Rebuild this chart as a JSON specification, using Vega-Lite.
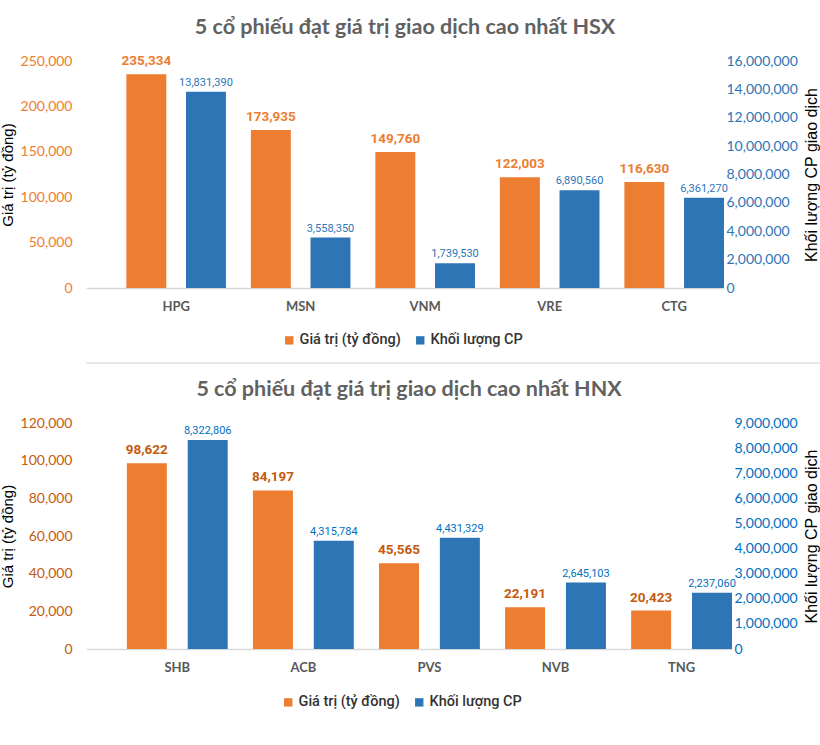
{
  "$schema": "https://vega.github.io/schema/vega-lite/v6.json",
  "padding": {"top": 16, "left": 0, "right": 0, "bottom": 0},
  "background": "white",
  "config": {"view": {"stroke": null}, "font": "Lato"},
  "spacing": 10,
  "resolve": {"scale": {"color": "independent", "x": "independent", "y": "independent", "xOffset": "independent"}, "legend": {"color": "independent"}},
  "vconcat": [
    {
      "width": 638,
      "height": 227,
      "title": {"text": "5 cổ phiếu đạt giá trị giao dịch cao nhất HSX", "font": "Lato", "fontSize": 21.5, "fontWeight": "bold", "color": "#616161", "anchor": "middle", "offset": 16},
      "data": {"values": [
        {"ma": "HPG", "gt": 235334, "kl": 13831390},
        {"ma": "MSN", "gt": 173935, "kl": 3558350},
        {"ma": "VNM", "gt": 149760, "kl": 1739530},
        {"ma": "VRE", "gt": 122003, "kl": 6890560},
        {"ma": "CTG", "gt": 116630, "kl": 6361270}
      ]},
      "encoding": {
        "x": {"field": "ma", "type": "nominal", "sort": null, "title": null,
          "scale": {"paddingInner": 0.2, "paddingOuter": 0.162, "align": 1},
          "axis": {"labelAngle": 0, "labelFont": "Lato", "labelFontWeight": "bold", "labelFontSize": 13, "labelColor": "#595959", "labelPadding": 12, "ticks": false, "domainColor": "#D9D9D9", "domainWidth": 1.5}}
      },
      "layer": [
        {
          "encoding": {
            "y": {"field": "gt", "type": "quantitative", "scale": {"domain": [0, 250000]},
              "axis": {"title": "Giá trị (tỷ đồng)", "values": [0, 50000, 100000, 150000, 200000, 250000], "format": ",.0f", "labelColor": "#ED7D31", "labelFont": "Lato", "labelFontSize": 14, "labelPadding": 14, "grid": false, "domain": false, "ticks": false, "titleColor": "#000000", "titleFont": "Liberation Sans", "titleFontWeight": "normal", "titleFontSize": 15, "titlePadding": 5}},
            "xOffset": {"datum": "Giá trị (tỷ đồng)", "scale": {"domain": ["Giá trị (tỷ đồng)", "Khối lượng CP"], "paddingInner": 0.33, "paddingOuter": 0}}
          },
          "layer": [
            {"mark": {"type": "bar"},
             "encoding": {"color": {"datum": "Giá trị (tỷ đồng)", "scale": {"domain": ["Giá trị (tỷ đồng)", "Khối lượng CP"], "range": ["#ED7D31", "#2E75B6"]},
               "legend": {"orient": "none", "legendX": 196, "legendY": 272, "direction": "horizontal", "title": null, "symbolType": "square", "symbolSize": 70, "labelFont": "Roboto", "labelFontSize": 14.5, "labelFontWeight": 500, "labelColor": "#333333", "labelOffset": 3, "columnPadding": 12}}}},
            {"mark": {"type": "text", "baseline": "alphabetic", "dy": -9, "font": "Roboto", "fontWeight": "bold", "fontSize": 13.5, "color": "#ED7D31"},
             "encoding": {"text": {"field": "gt", "type": "quantitative", "format": ",.0f"}}}
          ]
        },
        {
          "encoding": {
            "y": {"field": "kl", "type": "quantitative", "scale": {"domain": [0, 16000000]},
              "axis": {"orient": "right", "title": "Khối lượng CP giao dịch", "values": [0, 2000000, 4000000, 6000000, 8000000, 10000000, 12000000, 14000000, 16000000], "format": ",.0f", "labelColor": "#2E75B6", "labelFont": "Lato", "labelFontSize": 14, "labelPadding": 2, "grid": false, "domain": false, "ticks": false, "titleColor": "#000000", "titleFont": "Liberation Sans", "titleFontWeight": "normal", "titleFontSize": 16, "titlePadding": 6, "titleAngle": 270, "titleBaseline": "top"}},
            "xOffset": {"datum": "Khối lượng CP"}
          },
          "layer": [
            {"mark": {"type": "bar"},
             "encoding": {"color": {"datum": "Khối lượng CP"}}},
            {"mark": {"type": "text", "baseline": "alphabetic", "dy": -6, "font": "Roboto", "fontSize": 11, "color": "#2E75B6"},
             "encoding": {"text": {"field": "kl", "type": "quantitative", "format": ",.0f"}}}
          ]
        }
      ],
      "resolve": {"scale": {"y": "independent"}}
    },
    {
      "width": 820,
      "height": 2,
      "view": {"fill": "#E8E8E8", "stroke": null},
      "data": {"values": [{}]},
      "mark": {"type": "text", "text": ""},
      "encoding": {}
    },
    {
      "width": 646,
      "height": 226,
      "title": {"text": "5 cổ phiếu đạt giá trị giao dịch cao nhất HNX", "font": "Lato", "fontSize": 21.5, "fontWeight": "bold", "color": "#616161", "anchor": "middle", "offset": 16},
      "data": {"values": [
        {"ma": "SHB", "gt": 98622, "kl": 8322806},
        {"ma": "ACB", "gt": 84197, "kl": 4315784},
        {"ma": "PVS", "gt": 45565, "kl": 4431329},
        {"ma": "NVB", "gt": 22191, "kl": 2645103},
        {"ma": "TNG", "gt": 20423, "kl": 2237060}
      ]},
      "encoding": {
        "x": {"field": "ma", "type": "nominal", "sort": null, "title": null,
          "scale": {"paddingInner": 0.2, "paddingOuter": 0.162, "align": 1},
          "axis": {"labelAngle": 0, "labelFont": "Lato", "labelFontWeight": "bold", "labelFontSize": 13, "labelColor": "#595959", "labelPadding": 12, "ticks": false, "domainColor": "#D9D9D9", "domainWidth": 1.5}}
      },
      "layer": [
        {
          "encoding": {
            "y": {"field": "gt", "type": "quantitative", "scale": {"domain": [0, 120000]},
              "axis": {"title": "Giá trị (tỷ đồng)", "values": [0, 20000, 40000, 60000, 80000, 100000, 120000], "format": ",.0f", "labelColor": "#C55A11", "labelFont": "Lato", "labelFontSize": 14, "labelPadding": 14, "grid": false, "domain": false, "ticks": false, "titleColor": "#000000", "titleFont": "Liberation Sans", "titleFontWeight": "normal", "titleFontSize": 15, "titlePadding": 5}},
            "xOffset": {"datum": "Giá trị (tỷ đồng)", "scale": {"domain": ["Giá trị (tỷ đồng)", "Khối lượng CP"], "paddingInner": 0.343, "paddingOuter": 0}}
          },
          "layer": [
            {"mark": {"type": "bar"},
             "encoding": {"color": {"datum": "Giá trị (tỷ đồng)", "scale": {"domain": ["Giá trị (tỷ đồng)", "Khối lượng CP"], "range": ["#ED7D31", "#2E75B6"]},
               "legend": {"orient": "none", "legendX": 195, "legendY": 272, "direction": "horizontal", "title": null, "symbolType": "square", "symbolSize": 70, "labelFont": "Roboto", "labelFontSize": 14.5, "labelFontWeight": 500, "labelColor": "#333333", "labelOffset": 3, "columnPadding": 12}}}},
            {"mark": {"type": "text", "baseline": "alphabetic", "dy": -9, "font": "Roboto", "fontWeight": "bold", "fontSize": 13.5, "color": "#C55A11"},
             "encoding": {"text": {"field": "gt", "type": "quantitative", "format": ",.0f"}}}
          ]
        },
        {
          "encoding": {
            "y": {"field": "kl", "type": "quantitative", "scale": {"domain": [0, 9000000]},
              "axis": {"orient": "right", "title": "Khối lượng CP giao dịch", "values": [0, 1000000, 2000000, 3000000, 4000000, 5000000, 6000000, 7000000, 8000000, 9000000], "format": ",.0f", "labelColor": "#0070C0", "labelFont": "Lato", "labelFontSize": 14, "labelPadding": 2, "grid": false, "domain": false, "ticks": false, "titleColor": "#000000", "titleFont": "Liberation Sans", "titleFontWeight": "normal", "titleFontSize": 16, "titlePadding": 6, "titleAngle": 270, "titleBaseline": "top"}},
            "xOffset": {"datum": "Khối lượng CP"}
          },
          "layer": [
            {"mark": {"type": "bar"},
             "encoding": {"color": {"datum": "Khối lượng CP"}}},
            {"mark": {"type": "text", "baseline": "alphabetic", "dy": -6, "font": "Roboto", "fontSize": 11, "color": "#0070C0"},
             "encoding": {"text": {"field": "kl", "type": "quantitative", "format": ",.0f"}}}
          ]
        }
      ],
      "resolve": {"scale": {"y": "independent"}}
    }
  ]
}
